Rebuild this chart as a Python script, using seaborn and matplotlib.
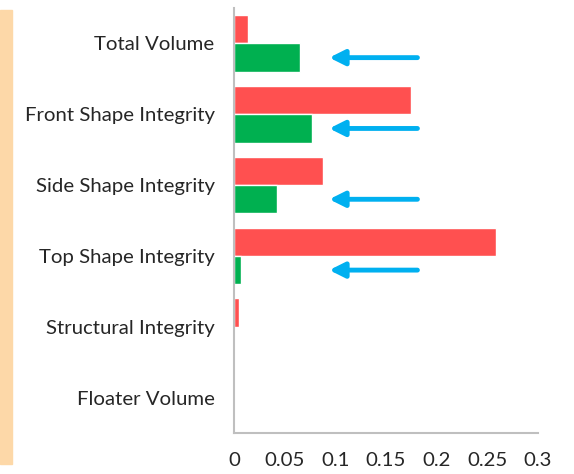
import numpy as np
import pandas as pd
import matplotlib.pyplot as plt
import seaborn as sns
from matplotlib.patches import Rectangle

# categories and the two series (red on top, green below)
categories = ['Total Volume', 'Front Shape Integrity', 'Side Shape Integrity',
              'Top Shape Integrity', 'Structural Integrity', 'Floater Volume']
red_values = [0.014, 0.175, 0.0875, 0.2585, 0.005, 0.0]
green_values = [0.065, 0.077, 0.0425, 0.0066, 0.0, 0.0]
arrow_rows = [0, 1, 2, 3]
x_ticks = [0, 0.05, 0.1, 0.15, 0.2, 0.25, 0.3]
x_tick_labels = ['0', '0.05', '0.1', '0.15', '0.2', '0.25', '0.3']

df = pd.DataFrame({
    'category': categories * 2,
    'value': red_values + green_values,
    'series': ['red'] * len(categories) + ['green'] * len(categories),
})

sns.set_style('white')
plt.rcParams['font.family'] = ['Lato', 'DejaVu Sans']

fig = plt.figure(figsize=(5.74, 4.74), dpi=100)
ax = fig.add_axes([0.4077, 0.0865, 0.5296, 0.8965])

sns.barplot(data=df, x='value', y='category', hue='series', order=categories,
            palette={'red': '#FF5050', 'green': '#00B050'}, width=0.8,
            saturation=1, legend=False, ax=ax)

ax.set_xlim(0, 0.3)
ax.set_xticks(x_ticks)
ax.set_xticklabels(x_tick_labels)
ax.set_xlabel('')
ax.set_ylabel('')
ax.tick_params(axis='both', length=0, labelsize=14.7, colors='#262626')
ax.tick_params(axis='x', pad=14)
ax.tick_params(axis='y', pad=14)

sns.despine(ax=ax, top=True, right=True)
for side in ['left', 'bottom']:
    ax.spines[side].set_color('#BFBFBF')
    ax.spines[side].set_linewidth(1.5)

# blue arrows pointing at the green bars
for r in arrow_rows:
    ax.annotate('', xy=(0.094, r + 0.2), xytext=(0.181, r + 0.2),
                arrowprops=dict(arrowstyle='-|>,head_length=0.9,head_width=0.45',
                                color='#00B0F0', lw=3.5, shrinkA=0, shrinkB=0))

# peach strip on the left edge
fig.patches.append(Rectangle((0, 0.021), 12 / 574, 0.958, transform=fig.transFigure,
                             color='#FDD8A8', zorder=0))

fig.savefig('out.png', dpi=100)
